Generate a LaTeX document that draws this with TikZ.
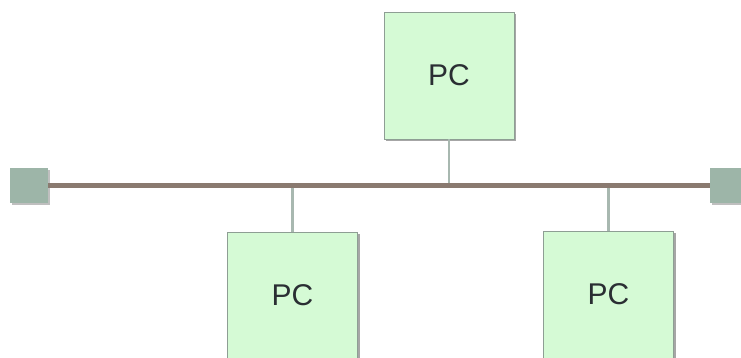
\documentclass[tikz,border=0pt]{standalone}
\usepackage{fontspec}
\setmainfont{Liberation Sans}
\usetikzlibrary{shadows}
\definecolor{pcfill}{HTML}{D5FAD5}
\definecolor{pcdraw}{HTML}{8E9E94}
\definecolor{termfill}{HTML}{9DB5A8}
\definecolor{buscol}{HTML}{8A7A70}
\definecolor{dropcol}{HTML}{A8B8B0}
\definecolor{txtcol}{HTML}{2A2E33}
\begin{document}
\begin{tikzpicture}[x=1pt,y=1pt,
  pcbox/.style={draw=pcdraw, line width=0.8pt, fill=pcfill, minimum width=130pt, minimum height=127pt,
    inner sep=0pt, text=txtcol, font=\fontsize{30}{36}\selectfont,
    drop shadow={shadow xshift=2pt, shadow yshift=-2pt, fill=black, opacity=0.35}},
  termbox/.style={fill=termfill, minimum width=38pt, minimum height=35pt, inner sep=0pt,
    drop shadow={shadow xshift=2pt, shadow yshift=-2pt, fill=black, opacity=0.25}},
  bus/.style={draw=buscol, line width=5pt},
  drop/.style={draw=dropcol, line width=2.2pt}]
\useasboundingbox (0,0) rectangle (741,357);
\clip (0,0) rectangle (741,357);
% bus terminators
\node[termbox] (tl) at (29,171.5) {};
\node[termbox] (tr) at (729,171.5) {};
% coordinates where each station taps the bus
\coordinate (t1) at (449,173);
\coordinate (t2) at (292.5,173);
\coordinate (t3) at (608.5,173);
% stations
\node[pcbox] (pc1) at (449,281.5) {\raisebox{-2pt}{PC}};
\node[pcbox] (pc2) at (292.5,61.5) {\raisebox{-2pt}{PC}};
\node[pcbox] (pc3) at (608.5,62.5) {\raisebox{-2pt}{PC}};
% drop cables
\draw[drop] (pc1.south) -- (t1);
\draw[drop] (pc2.north) -- (t2);
\draw[drop] (pc3.north) -- (t3);
% bus cable
\draw[bus] (tl.east) -- (tr.west);
\end{tikzpicture}
\end{document}
